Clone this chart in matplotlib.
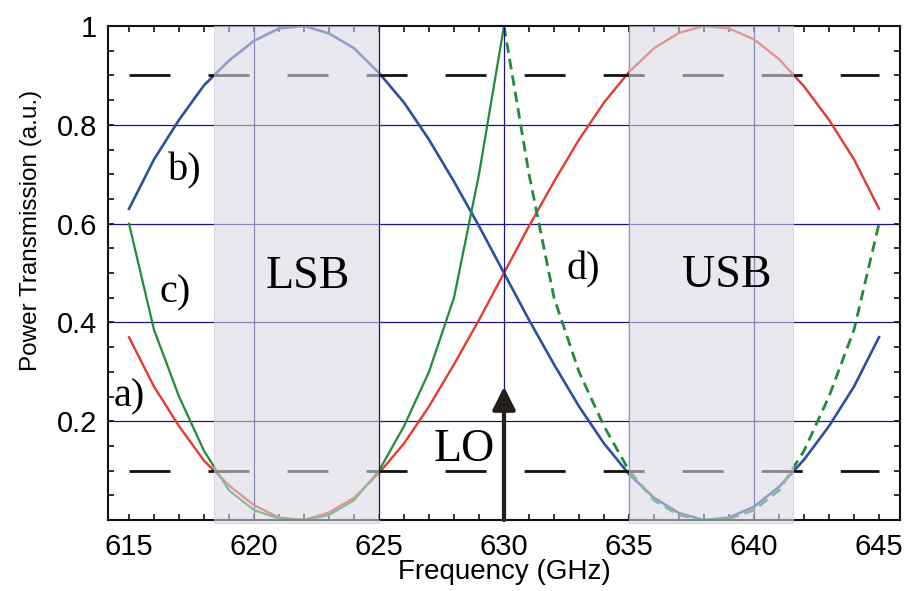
import matplotlib
matplotlib.use("Agg")
import matplotlib.pyplot as plt
from matplotlib.ticker import MultipleLocator

plt.rcParams['font.family'] = ['Liberation Sans', 'DejaVu Sans']

# values, 1 GHz steps
freq = list(range(615, 646))
blue_b = [0.63, 0.73, 0.81, 0.88, 0.93, 0.97, 0.995, 1.0, 0.985, 0.955, 0.905,
          0.845, 0.77, 0.685, 0.595, 0.50, 0.405, 0.315, 0.23, 0.155, 0.093,
          0.045, 0.014, 0.0, 0.005, 0.027, 0.067, 0.122, 0.19, 0.27, 0.37]
red_a = [0.37, 0.27, 0.19, 0.12, 0.07, 0.03, 0.005, 0.0, 0.015, 0.045, 0.095,
         0.155, 0.23, 0.315, 0.405, 0.50, 0.595, 0.685, 0.77, 0.845, 0.907,
         0.955, 0.986, 1.0, 0.995, 0.973, 0.933, 0.878, 0.81, 0.73, 0.63]
freq_c = list(range(615, 631))
green_c = [0.60, 0.385, 0.25, 0.14, 0.06, 0.02, 0.003, 0.0, 0.01, 0.04, 0.10,
           0.19, 0.30, 0.45, 0.70, 1.00]
freq_d = list(range(630, 646))
green_d = [1.00, 0.70, 0.45, 0.30, 0.19, 0.10, 0.04, 0.01, 0.0, 0.003, 0.02,
           0.06, 0.14, 0.25, 0.385, 0.60]

levels = [0.1, 0.9]
level_span = [615, 645]
lsb = (618.4, 625)
usb = (635, 641.56)
lo_freq = 630
lo_top = 0.27

yticks = [0.2, 0.4, 0.6, 0.8, 1.0]
ylabels = ['0.2', '0.4', '0.6', '0.8', '1']
xticks = [615, 620, 625, 630, 635, 640, 645]

navy = '#1C1678'

fig = plt.figure(figsize=(9.1, 5.91), dpi=100)
ax = fig.add_axes([0.1187, 0.1201, 0.8703, 0.8359])

# grid lines
for y in yticks[:-1]:
    ax.axhline(y, color=navy, lw=0.9, zorder=1)
for x in [620, 635, 640]:
    ax.axvline(x, color=navy, lw=0.9, zorder=1)
for x in [625, 630]:
    ax.axvline(x, color=navy, lw=0.9, zorder=4)

ax.plot(freq, blue_b, color='#2E4FA0', lw=1.9, zorder=2)
ax.plot(freq, red_a, color='#E53A2E', lw=1.7, zorder=2)
ax.plot(freq_c, green_c, color='#1E8C3A', lw=1.6, zorder=2)
ax.plot(freq_d, green_d, color='#1E8C3A', lw=2.0, dashes=(3.8, 2.2), zorder=2)

for lv in levels:
    ax.plot(level_span, [lv, lv], color='#111111', lw=2, dashes=(14.75, 13.7),
            zorder=2.2)

# shaded sideband windows
for lo, hi in [lsb, usb]:
    ax.axvspan(lo, hi, ymin=-0.006, ymax=1.0, facecolor='#DBD9E4', alpha=0.58,
               edgecolor='#C8C6DE', lw=0.8, zorder=3, clip_on=False)

ax.annotate('', xy=(lo_freq, lo_top), xytext=(lo_freq, 0),
            arrowprops=dict(arrowstyle='-|>,head_length=0.7,head_width=0.35',
                            mutation_scale=20, lw=3, color='#231F1C',
                            shrinkA=0, shrinkB=0), zorder=5)

serif = dict(family='Liberation Serif', ha='center', va='baseline', zorder=6)
ax.text(615.0, 0.230, 'a)', fontsize=29, **serif)
ax.text(617.24, 0.687, 'b)', fontsize=29, **serif)
ax.text(616.84, 0.44, 'c)', fontsize=29, **serif)
ax.text(633.16, 0.487, 'd)', fontsize=29, **serif)
ax.text(622.16, 0.469, 'LSB', fontsize=33, **serif)
ax.text(638.92, 0.471, 'USB', fontsize=33, **serif)
ax.text(628.4, 0.119, 'LO', fontsize=33, **serif)

ax.set_xlim(614.16, 645.84)
ax.set_ylim(0, 1.0)
ax.set_xticks(xticks)
ax.set_xticklabels([str(t) for t in xticks])
ax.set_yticks(yticks)
ax.set_yticklabels(ylabels)
ax.xaxis.set_minor_locator(MultipleLocator(1))
ax.yaxis.set_minor_locator(MultipleLocator(0.05))
ax.tick_params(which='both', direction='in', top=True, right=True,
               length=4.5, width=1.2, color='#111111')
ax.tick_params(axis='x', which='major', labelsize=21, pad=9)
ax.tick_params(axis='y', which='major', labelsize=21, pad=8)
for s in ax.spines.values():
    s.set_linewidth(1.5)
    s.set_color('#111111')

ax.set_xlabel('Frequency (GHz)', fontsize=20)
ax.xaxis.set_label_coords(0.5, -0.079)
ax.set_ylabel('Power Transmission (a.u.)', fontsize=17.5)
ax.yaxis.set_label_coords(-0.083, 0.586)

fig.savefig('out.png', dpi=100)
